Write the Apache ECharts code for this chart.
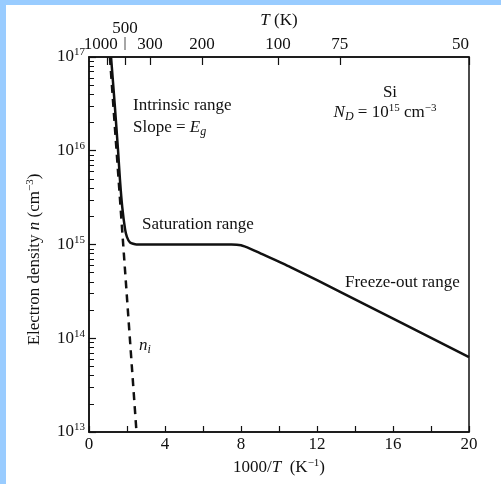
<!DOCTYPE html>
<html>
<head>
<meta charset="utf-8">
<script src="https://cdn.jsdelivr.net/npm/echarts@6/dist/echarts.min.js"></script>
<style>
  html, body { margin: 0; padding: 0; background: #ffffff; }
  #main { width: 501px; height: 484px; }
</style>
</head>
<body>
<div id="main"></div>
<script>
// electron density vs 1000/T
const solidX = [1.16, 1.35, 1.53, 1.63, 1.75, 1.9, 2.0, 2.16, 2.5, 4, 7.5, 8.0, 8.5, 9.0, 10.6, 13.4, 20];
const solidN = [1e17, 3.2e16, 1e16, 4.9e15, 2.5e15, 1.45e15, 1.2e15, 1.05e15, 1.0e15, 1.0e15, 1.0e15, 9.8e14, 9.0e14, 8.1e14, 5.75e14, 3.0e14, 6.3e13];
const niX = [1.1, 2.5];
const niN = [1e17, 1e13];

// top axis: temperatures and where their ticks sit on the 1000/T scale
const topTemps = [1000, 500, 300, 200, 100, 75, 50];
const topTickPos = [0.95, 1.89, 3.21, 5.95, 9.95, 13.2, 20];
const minorMantissa = [2, 3, 4, 5, 6, 7, 8, 9];
const decades = [13, 14, 15, 16];

const FONT = "'Liberation Serif', 'DejaVu Serif', serif";
const INK = '#111';

const minorPos = [];
decades.forEach((d) => {
  minorMantissa.forEach((m) => minorPos.push(d + Math.log10(m)));
});
// the 500 K label sits raised on its own row, so it gets its own axis
const raisedPos = topTickPos.filter((p, i) => topTemps[i] === 500);
const rowPos = topTickPos.filter((p, i) => topTemps[i] !== 500);

function tempAt(v) {
  let idx = 0;
  topTickPos.forEach((p, k) => { if (Math.abs(p - v) < 1e-6) idx = k; });
  return topTemps[idx];
}

const supRich = {
  b: { fontFamily: FONT, fontSize: 17, color: INK, lineHeight: 20 },
  i: { fontFamily: FONT, fontSize: 17, color: INK, fontStyle: 'italic', lineHeight: 20 },
  s: { fontFamily: FONT, fontSize: 11, color: INK, verticalAlign: 'top', lineHeight: 13 },
  u: { fontFamily: FONT, fontSize: 12, color: INK, fontStyle: 'italic', verticalAlign: 'bottom', lineHeight: 11 },
  up: { fontFamily: FONT, fontSize: 17, color: INK, lineHeight: 17 },
  bar: { fontFamily: FONT, fontSize: 15, color: INK, lineHeight: 13 }
};

const chart = echarts.init(document.getElementById('main'));

function annot(x, y, text, align) {
  return {
    type: 'text',
    x: x,
    y: y,
    style: {
      text: text,
      align: align || 'left',
      verticalAlign: 'middle',
      font: '17px ' + FONT,
      fill: INK,
      rich: supRich
    }
  };
}

const option = {
  backgroundColor: '#ffffff',
  animation: false,
  grid: {
    left: 89, right: 32, top: 57, bottom: 52,
    outerBoundsMode: 'none',
    containLabel: false,
    show: true, borderColor: INK, borderWidth: 1.5, backgroundColor: 'transparent'
  },
  xAxis: [
    {
      type: 'value',
      position: 'bottom',
      min: 0, max: 20, interval: 2,
      axisLine: { lineStyle: { color: INK, width: 1.5 } },
      axisTick: { inside: true, length: 6, lineStyle: { color: INK, width: 1.2 } },
      axisLabel: {
        margin: 4,
        fontFamily: FONT, fontSize: 17, color: INK,
        formatter: (v) => (v % 4 === 0 ? String(v) : '')
      },
      splitLine: { show: false },
      name: '1000/{i|T}  (K{s|−1})',
      nameLocation: 'middle',
      nameGap: 23,
      nameTextStyle: { fontFamily: FONT, fontSize: 17, color: INK, rich: supRich }
    },
    {
      type: 'value',
      position: 'top',
      min: 0, max: 20,
      axisLine: { lineStyle: { color: INK, width: 1.5 } },
      axisTick: { inside: true, length: 8, customValues: topTickPos, lineStyle: { color: INK, width: 1.2 } },
      axisLabel: {
        margin: 4,
        customValues: rowPos,
        hideOverlap: false,
        showMinLabel: true,
        alignMaxLabel: 'right',
        fontFamily: FONT, fontSize: 17, color: INK,
        formatter: (v) => {
          const t = tempAt(v);
          if (t === 1000) return '1000   ';
          return String(t);
        }
      },
      splitLine: { show: false },
      name: '{i|T} (K)',
      nameLocation: 'middle',
      nameGap: 26,
      nameTextStyle: { fontFamily: FONT, fontSize: 17, color: INK, rich: supRich }
    },
    {
      type: 'value',
      position: 'top',
      min: 0, max: 20,
      axisLine: { show: false },
      axisTick: { show: false },
      axisLabel: {
        margin: 7,
        customValues: raisedPos,
        hideOverlap: false,
        rich: supRich,
        formatter: (v) => '{up|' + tempAt(v) + '}\n{bar||}'
      },
      splitLine: { show: false }
    }
  ],
  yAxis: [
    {
      type: 'log',
      logBase: 10,
      min: 1e13, max: 1e17, interval: 1,
      axisLine: { lineStyle: { color: INK, width: 1.5 } },
      axisTick: { inside: true, length: 7, lineStyle: { color: INK, width: 1.2 } },
      axisLabel: {
        margin: 4,
        hideOverlap: false,
        rich: supRich,
        formatter: (v) => '{b|10}{s|' + Math.round(Math.log10(v)) + '}'
      },
      splitLine: { show: false },
      name: 'Electron density {i|n} (cm{s|−3})',
      nameLocation: 'middle',
      nameGap: 44,
      nameTextStyle: { fontFamily: FONT, fontSize: 17, color: INK, rich: supRich, padding: [0, 30, 0, 0] }
    },
    {
      // log-spaced minor ticks 2..9 in each decade
      type: 'value',
      position: 'left',
      min: 13, max: 17,
      axisLine: { show: false },
      axisTick: { inside: true, length: 5, customValues: minorPos, lineStyle: { color: INK, width: 1 } },
      axisLabel: { show: false },
      splitLine: { show: false }
    }
  ],
  series: [
    {
      type: 'line',
      xAxisIndex: 0, yAxisIndex: 0,
      data: solidX.map((x, i) => [x, solidN[i]]),
      showSymbol: false,
      smooth: 0.2,
      lineStyle: { color: INK, width: 2.5 }
    },
    {
      type: 'line',
      xAxisIndex: 0, yAxisIndex: 0,
      data: niX.map((x, i) => [x, niN[i]]),
      showSymbol: false,
      lineStyle: { color: INK, width: 2.5, type: [8, 6] }
    }
  ],
  graphic: [
    { type: 'rect', shape: { x: 0, y: 0, width: 6, height: 484 }, style: { fill: '#99ccff' } },
    { type: 'rect', shape: { x: 0, y: 0, width: 501, height: 5 }, style: { fill: '#99ccff' } },
    annot(133, 106, 'Intrinsic range'),
    annot(133, 128, '{b|Slope = }{i|E}{u|g}'),
    annot(390, 93, 'Si', 'center'),
    annot(385, 113, '{i|N}{u|D}{b| = 10}{s|15}{b| cm}{s|−3}', 'center'),
    annot(142, 225, 'Saturation range'),
    annot(345, 283, 'Freeze-out range'),
    annot(139, 346, '{i|n}{u|i}')
  ]
};

chart.setOption(option);
</script>
</body>
</html>
